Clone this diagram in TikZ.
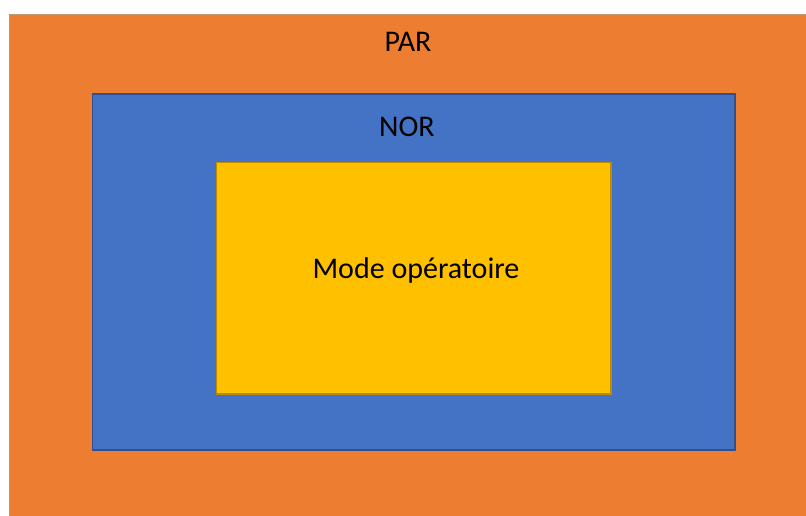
\documentclass[tikz,border=0pt]{standalone}
\usepackage{fontspec}
\setmainfont{Carlito}
\definecolor{orng}{HTML}{ED7D31}
\definecolor{orngb}{HTML}{C0986F}
\definecolor{blu}{HTML}{4472C4}
\definecolor{blub}{HTML}{2F528F}
\definecolor{ylw}{HTML}{FFC000}
\definecolor{ylwb}{HTML}{BC8C00}
\begin{document}
\begin{tikzpicture}[x=1pt,y=-1pt,
  lbl/.style={font=\fontsize{30}{34}\selectfont, text=black, inner sep=0pt}]
\useasboundingbox (0,0) rectangle (806,516);
\fill[white] (0,0) rectangle (806,516);
\filldraw[fill=orng, draw=orngb, line width=1pt] (9.5,14.5) rectangle (820,530);
\filldraw[fill=blu, draw=blub, line width=1.2pt] (92.5,94) rectangle (735,450);
\filldraw[fill=ylw, draw=ylwb, line width=1.2pt] (216.5,162.5) rectangle (611,394);
\node[lbl] (par) at (408,42) {PAR};
\node[lbl] (nor) at (407,127) {NOR};
\node[lbl] (mode) at (416,271) {Mode opératoire};
\end{tikzpicture}
\end{document}
